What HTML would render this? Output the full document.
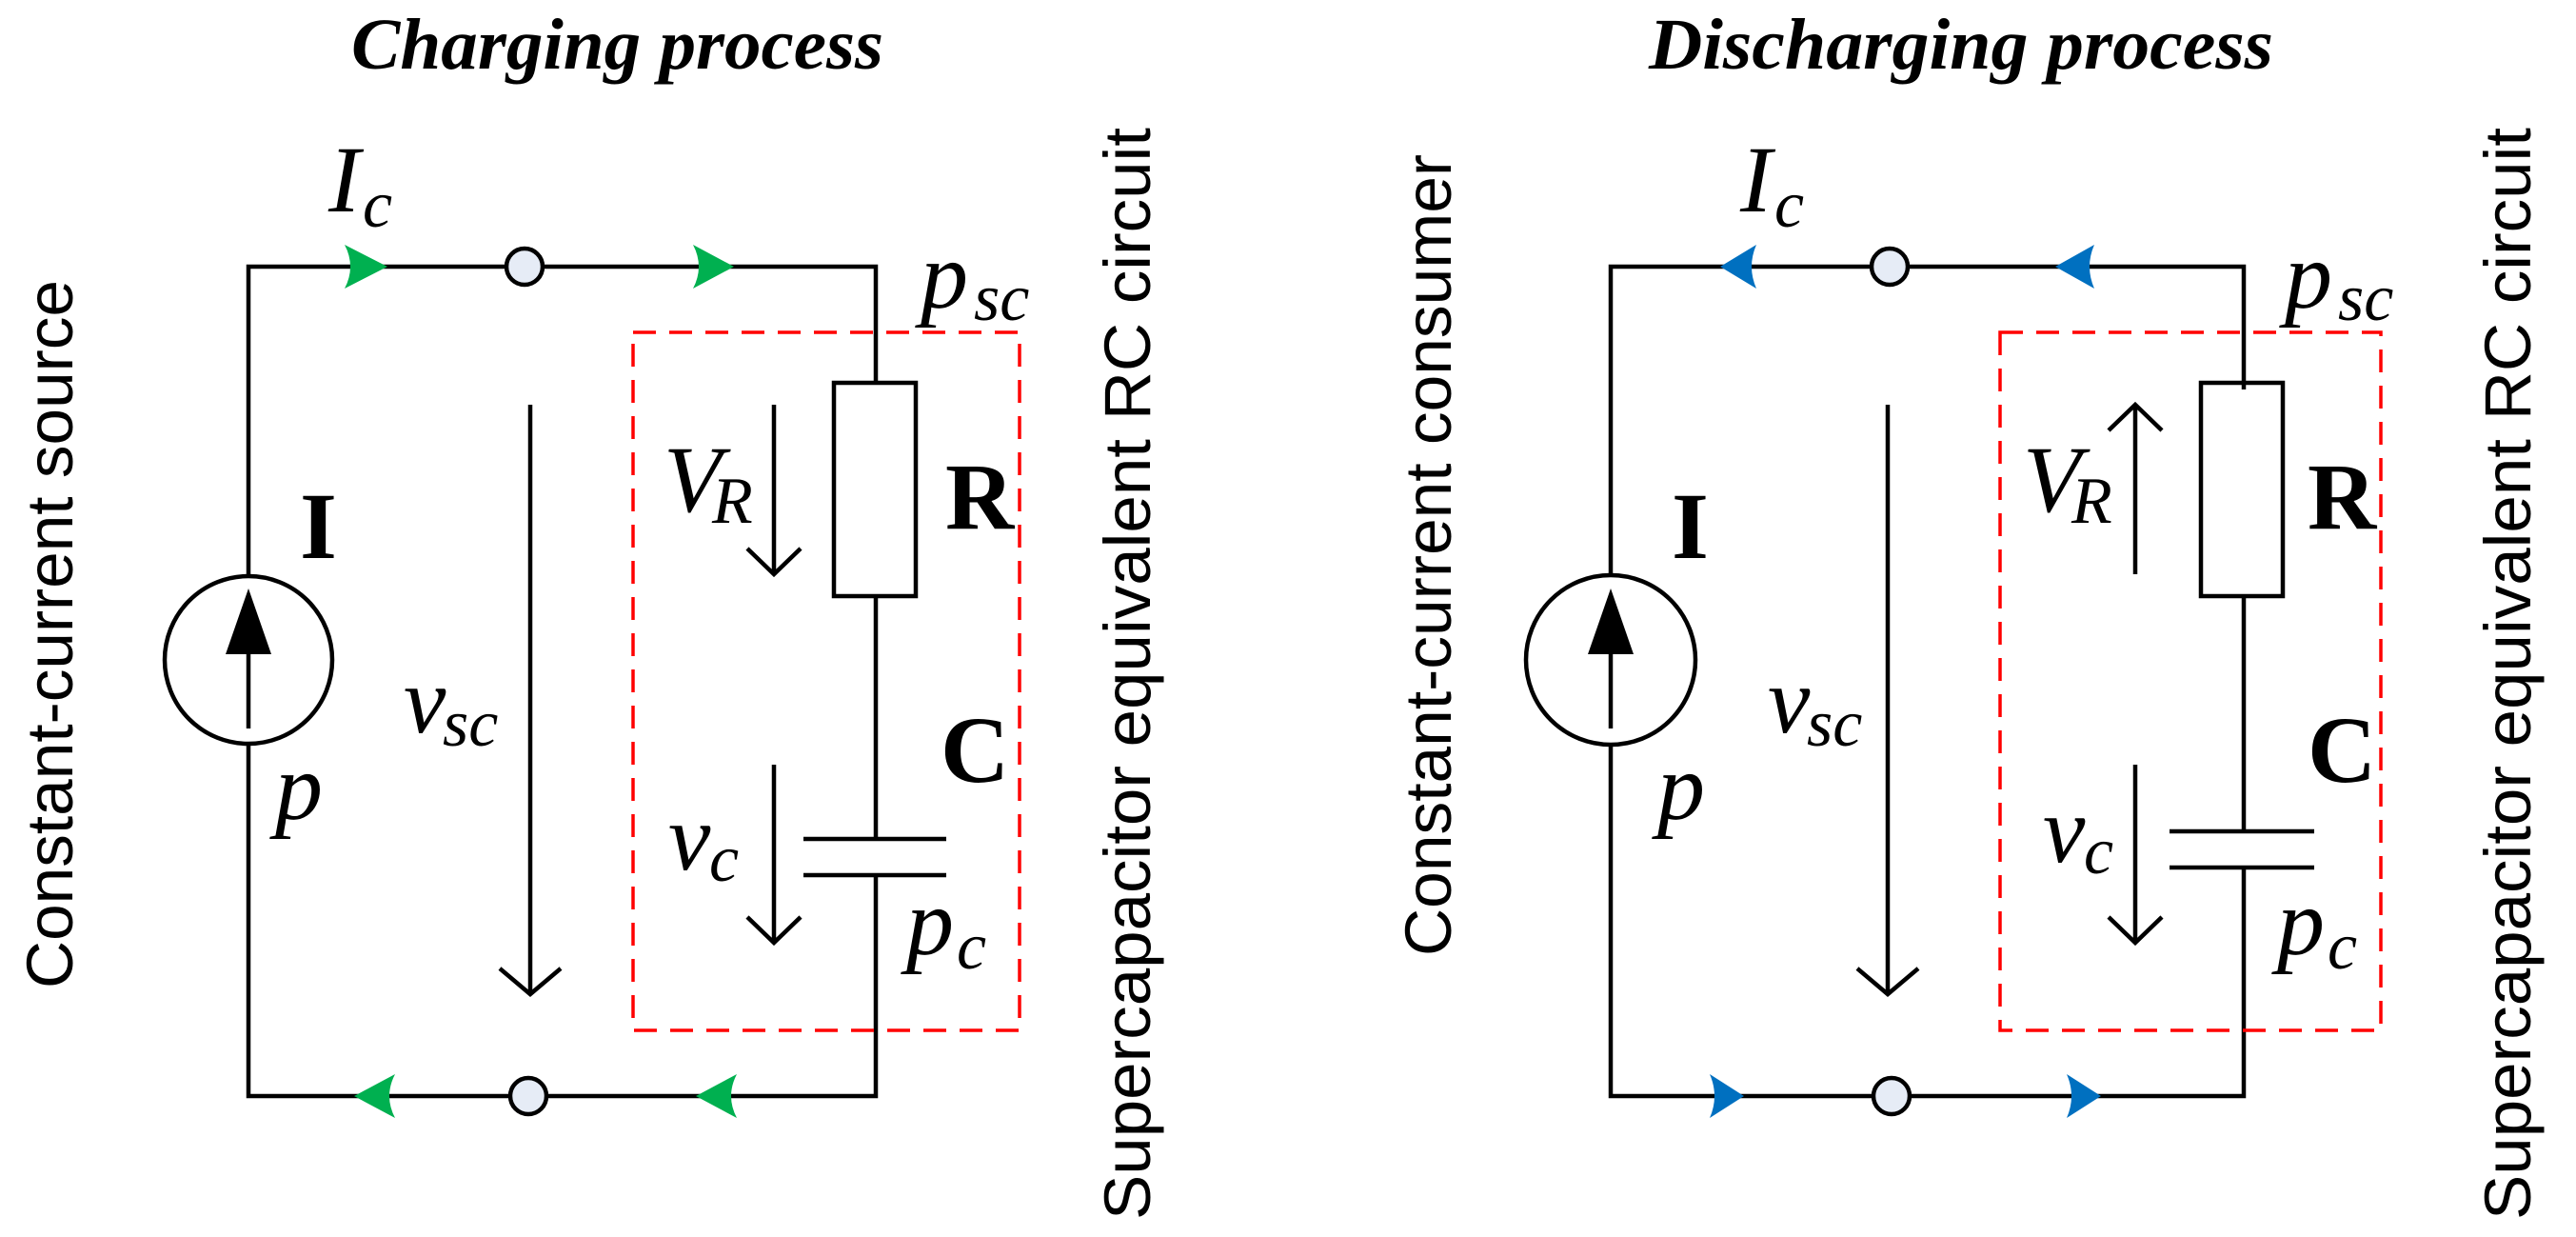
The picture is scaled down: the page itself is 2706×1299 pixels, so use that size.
<!DOCTYPE html>
<html><head><meta charset="utf-8"><style>html,body{margin:0;padding:0;background:#fff}svg{display:block}.sf{font-family:"Liberation Serif",serif}.ss{font-family:"Liberation Sans",sans-serif}</style></head>
<body>
<svg width="2706" height="1299" viewBox="0 0 2706 1299" xmlns="http://www.w3.org/2000/svg">
<rect width="2706" height="1299" fill="#fff"/>
<g class="sf" fill="#000">
<text x="369" y="72" font-size="76" font-weight="bold" font-style="italic" textLength="559" lengthAdjust="spacingAndGlyphs">Charging process</text>
<text x="1732" y="72" font-size="76" font-weight="bold" font-style="italic" textLength="656" lengthAdjust="spacingAndGlyphs">Discharging process</text>
</g>
<g class="ss" font-size="69" fill="#000">
<text transform="translate(76,1038) rotate(-90)" textLength="744" lengthAdjust="spacingAndGlyphs">Constant-current source</text>
<text transform="translate(1208,1281) rotate(-90)" textLength="1147" lengthAdjust="spacingAndGlyphs">Supercapacitor equivalent RC circuit</text>
<text transform="translate(1524,1004) rotate(-90)" textLength="842" lengthAdjust="spacingAndGlyphs">Constant-current consumer</text>
<text transform="translate(2658,1281) rotate(-90)" textLength="1147" lengthAdjust="spacingAndGlyphs">Supercapacitor equivalent RC circuit</text>
</g>

<!-- Left circuit -->
<g fill="none" stroke="#000" stroke-width="4.5">
<path d="M261,605 V280 H920 V402 M920,626 V881 M920,919 V1151 H261 V781"/>
<rect x="876" y="402" width="86" height="224"/>
<path d="M844,881 H994 M844,919 H994"/>
<circle cx="261" cy="693" r="88"/>
<path d="M261,765 V680"/>
<path d="M557,425 V1044 M525,1017 L557,1044 L589,1017"/>
<path d="M813,425 V603 M785,576 L813,603 L841,576"/>
<path d="M813,803 V990 M785,963 L813,990 L841,963"/>
</g>
<path d="M261,618 L237,687 L285,687 Z" fill="#000"/>
<circle cx="551" cy="280" r="19" fill="#e6ecf6" stroke="#000" stroke-width="4.5"/>
<circle cx="555" cy="1151" r="19" fill="#e6ecf6" stroke="#000" stroke-width="4.5"/>
<rect x="665" y="349" width="406" height="733" fill="none" stroke="#f00" stroke-width="3.5" stroke-dasharray="24,14"/>
<g fill="#00b050">
<path d="M407,280 L362,257 Q374,280 362,303 Z"/>
<path d="M771,280 L728,257 Q740,280 728,303 Z"/>
<path d="M372,1151 L415,1128 Q403,1151 415,1174 Z"/>
<path d="M731,1151 L774,1128 Q762,1151 774,1174 Z"/>
</g>

<!-- Right circuit -->
<g fill="none" stroke="#000" stroke-width="4.5">
<path d="M1692,604 V280 H2357 V409 M2357,626 V873 M2357,911 V1151 H1692 V782"/>
<rect x="2312" y="402" width="86" height="224"/>
<path d="M2279,873 H2431 M2279,911 H2431"/>
<circle cx="1692" cy="693" r="89"/>
<path d="M1692,765 V680"/>
<path d="M1983,425 V1044 M1951,1017 L1983,1044 L2015,1017"/>
<path d="M2243,603 V425 M2215,452 L2243,425 L2271,452"/>
<path d="M2243,803 V990 M2215,963 L2243,990 L2271,963"/>
</g>
<path d="M1692,618 L1668,687 L1716,687 Z" fill="#000"/>
<circle cx="1985" cy="280" r="19" fill="#e6ecf6" stroke="#000" stroke-width="4.5"/>
<circle cx="1987" cy="1151" r="19" fill="#e6ecf6" stroke="#000" stroke-width="4.5"/>
<rect x="2101" y="349" width="400" height="733" fill="none" stroke="#f00" stroke-width="3.5" stroke-dasharray="24,14"/>
<g fill="#0070c0">
<path d="M1807,280 L1845,257 Q1835,280 1845,303 Z"/>
<path d="M2159,280 L2200,257 Q2190,280 2200,303 Z"/>
<path d="M1832,1151 L1796,1128 Q1806,1151 1796,1174 Z"/>
<path d="M2207,1151 L2171,1128 Q2181,1151 2171,1174 Z"/>
</g>

<!-- Labels -->
<g class="sf" fill="#000">
<g font-style="italic" font-size="100">
<text x="345" y="222">I</text><text x="967" y="323">p</text><text x="697" y="537">V</text>
<text x="424" y="769">v</text><text x="289" y="860">p</text><text x="702" y="913">v</text><text x="952" y="1002">p</text>
<text x="1828" y="222">I</text><text x="2400" y="323">p</text><text x="2125" y="537">V</text>
<text x="1857" y="769">v</text><text x="1741" y="860">p</text><text x="2146" y="905">v</text><text x="2392" y="1002">p</text>
</g>
<g font-style="italic" font-size="70">
<text x="381" y="238">c</text><text x="1023" y="336">sc</text><text x="748" y="549">R</text>
<text x="465" y="783">sc</text><text x="745" y="925">c</text><text x="1005" y="1017">c</text>
<text x="1864" y="238">c</text><text x="2456" y="336">sc</text><text x="2176" y="549">R</text>
<text x="1898" y="783">sc</text><text x="2189" y="917">c</text><text x="2445" y="1017">c</text>
</g>
<g font-weight="bold" font-size="100">
<text x="315" y="586">I</text><text x="993" y="555">R</text><text x="988" y="821">C</text>
<text x="1756" y="586">I</text><text x="2424" y="555">R</text><text x="2424" y="821">C</text>
</g>
</g>
</svg>
</body></html>
